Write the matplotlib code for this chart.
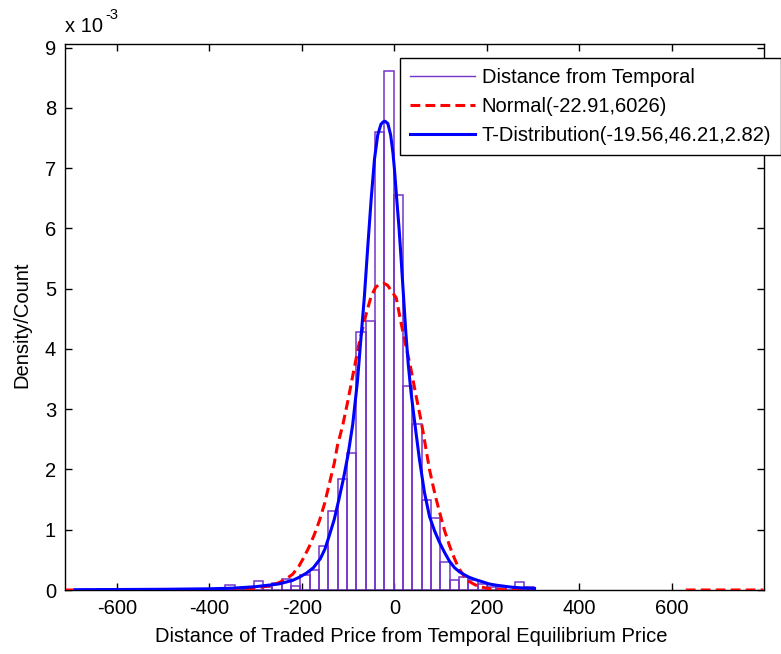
import matplotlib
matplotlib.use('Agg')
import matplotlib.pyplot as plt
from matplotlib.lines import Line2D
import numpy as np

plt.rcParams['font.family'] = ['Liberation Sans', 'DejaVu Sans']

# ---- data (density values in units of 1e-3) ----
bin_left = [-365.1, -344.9, -324.7, -304.5, -284.3, -264.1, -243.9, -223.7, -203.5,
            -183.3, -163.1, -142.9, -122.7, -102.5, -82.3, -62.1, -41.9, -21.7, -1.5,
            18.7, 38.9, 59.1, 79.3, 99.5, 119.7, 139.9, 160.1, 180.3, 200.5, 220.7,
            240.9, 261.1, 281.3]
bin_width = 20.2
hist_vals = [0.08, 0.02, 0.02, 0.15, 0.05, 0.11, 0.19, 0.06, 0.25,
             0.34, 0.73, 1.31, 1.84, 2.28, 4.28, 4.47, 7.60, 8.62, 6.56,
             3.39, 2.75, 1.49, 1.20, 0.46, 0.17, 0.22, 0.17, 0.10, 0.05, 0.05,
             0.05, 0.14, 0.05]

t_x = [-690, -600, -500, -400, -350, -300, -250, -220, -206, -190, -175, -160, -150,
       -140, -130, -120, -110, -100, -90, -80, -72, -65, -57, -50, -43, -36, -29, -24,
       -20, -14, -8, -3, 0, 5, 10, 15, 20, 25, 30, 36, 43, 54, 65, 76, 87, 97, 108,
       119, 130, 141, 152, 162, 176, 191, 205, 220, 240, 256, 275, 292, 303]
t_y = [0.005, 0.008, 0.012, 0.02, 0.03, 0.055, 0.10, 0.16, 0.21, 0.28, 0.37, 0.52, 0.68,
       0.92, 1.17, 1.50, 1.85, 2.25, 2.75, 3.45, 4.20, 4.85, 5.75, 6.50, 7.15, 7.55, 7.73, 7.77,
       7.78, 7.74, 7.55, 7.25, 7.00, 6.50, 6.02, 5.45, 4.85, 4.25, 3.75, 3.28, 2.84, 2.18, 1.62,
       1.22, 0.98, 0.80, 0.63, 0.48, 0.37, 0.30, 0.25, 0.21, 0.17, 0.135, 0.10, 0.08, 0.06,
       0.045, 0.035, 0.03, 0.025]

n_x = [-710, -500, -400, -350, -300, -270, -250, -235, -220, -206, -195, -184, -173, -162,
       -151, -141, -130, -123, -112, -101, -87, -76, -61, -50, -40, -30, -23, -15, -8, 4,
       14, 25, 36, 47, 58, 67, 76, 83, 90, 97.5, 108, 119, 127, 134, 141, 148, 155, 162,
       176, 191, 205, 220, 250, 300, np.nan, 630, 798]
n_y = [0.0, 0.0, 0.001, 0.006, 0.03, 0.07, 0.12, 0.18, 0.26, 0.40, 0.55, 0.72, 0.92, 1.15,
       1.43, 1.75, 2.10, 2.40, 2.72, 3.12, 3.67, 4.10, 4.58, 4.88, 5.03, 5.08, 5.09, 5.06, 4.98,
       4.85, 4.45, 4.05, 3.66, 3.22, 2.80, 2.40, 2.00, 1.75, 1.52, 1.30, 1.00, 0.74, 0.58, 0.45,
       0.34, 0.26, 0.19, 0.14, 0.08, 0.045, 0.02, 0.01, 0.002, 0.0, np.nan, 0.0, 0.0]

labels = ['Distance from Temporal', 'Normal(-22.91,6026)', 'T-Distribution(-19.56,46.21,2.82)']
xticks = [-600, -400, -200, 0, 200, 400, 600]
yticks = [0, 1, 2, 3, 4, 5, 6, 7, 8, 9]

purple = '#7434c8'
scale = 1e-3

fig = plt.figure(figsize=(7.81, 6.54), dpi=100)
ax = fig.add_axes([65 / 781, 1 - 590 / 654, (763.5 - 65) / 781, (590 - 43.5) / 654])

ax.bar(bin_left, np.array(hist_vals) * scale, width=bin_width, align='edge',
       facecolor='none', edgecolor=purple, linewidth=1.1, zorder=2)
ax.plot(n_x, np.array(n_y) * scale, color='red', lw=2.2, linestyle=(0, (3.2, 1.7)), zorder=3)
ax.plot(t_x, np.array(t_y) * scale, color='#0000ff', lw=2.2, zorder=4)

ax.set_xlim(-712, 798)
ax.set_ylim(0, 9.07e-3)
ax.set_xticks(xticks)
ax.set_xticklabels([str(v) for v in xticks])
ax.set_yticks([v * scale for v in yticks])
ax.set_yticklabels([str(v) for v in yticks])
ax.tick_params(direction='in', length=5, width=1, top=True, right=True,
               labelsize=14.5, pad=6.5, colors='black')
for s in ax.spines.values():
    s.set_linewidth(1.0)

fig.text(411 / 781, 1 - 636 / 654, 'Distance of Traded Price from Temporal Equilibrium Price',
         ha='center', va='center', fontsize=14.5)
fig.text(22 / 781, 1 - 325 / 654, 'Density/Count', ha='center', va='center',
         rotation=90, fontsize=14.5)
fig.text(65 / 781, 1 - 27 / 654, 'x 10', ha='left', va='center', fontsize=14.5)
fig.text(105 / 781, 1 - 15 / 654, '-3', ha='left', va='center', fontsize=10.5)

handles = [Line2D([], [], color=purple, lw=1.0),
           Line2D([], [], color='red', lw=2.2, linestyle=(0, (3.2, 1.7))),
           Line2D([], [], color='#0000ff', lw=2.2)]
leg = fig.legend(handles, labels, loc='upper left', bbox_to_anchor=(400 / 781, 1 - 58 / 654),
                 bbox_transform=fig.transFigure, fontsize=14.5, frameon=True, fancybox=False,
                 edgecolor='black', framealpha=1, borderpad=0.5, labelspacing=0.5,
                 handlelength=3.2, handletextpad=0.35, borderaxespad=0)
leg.get_frame().set_linewidth(1.0)

fig.savefig('out.png', dpi=100)
